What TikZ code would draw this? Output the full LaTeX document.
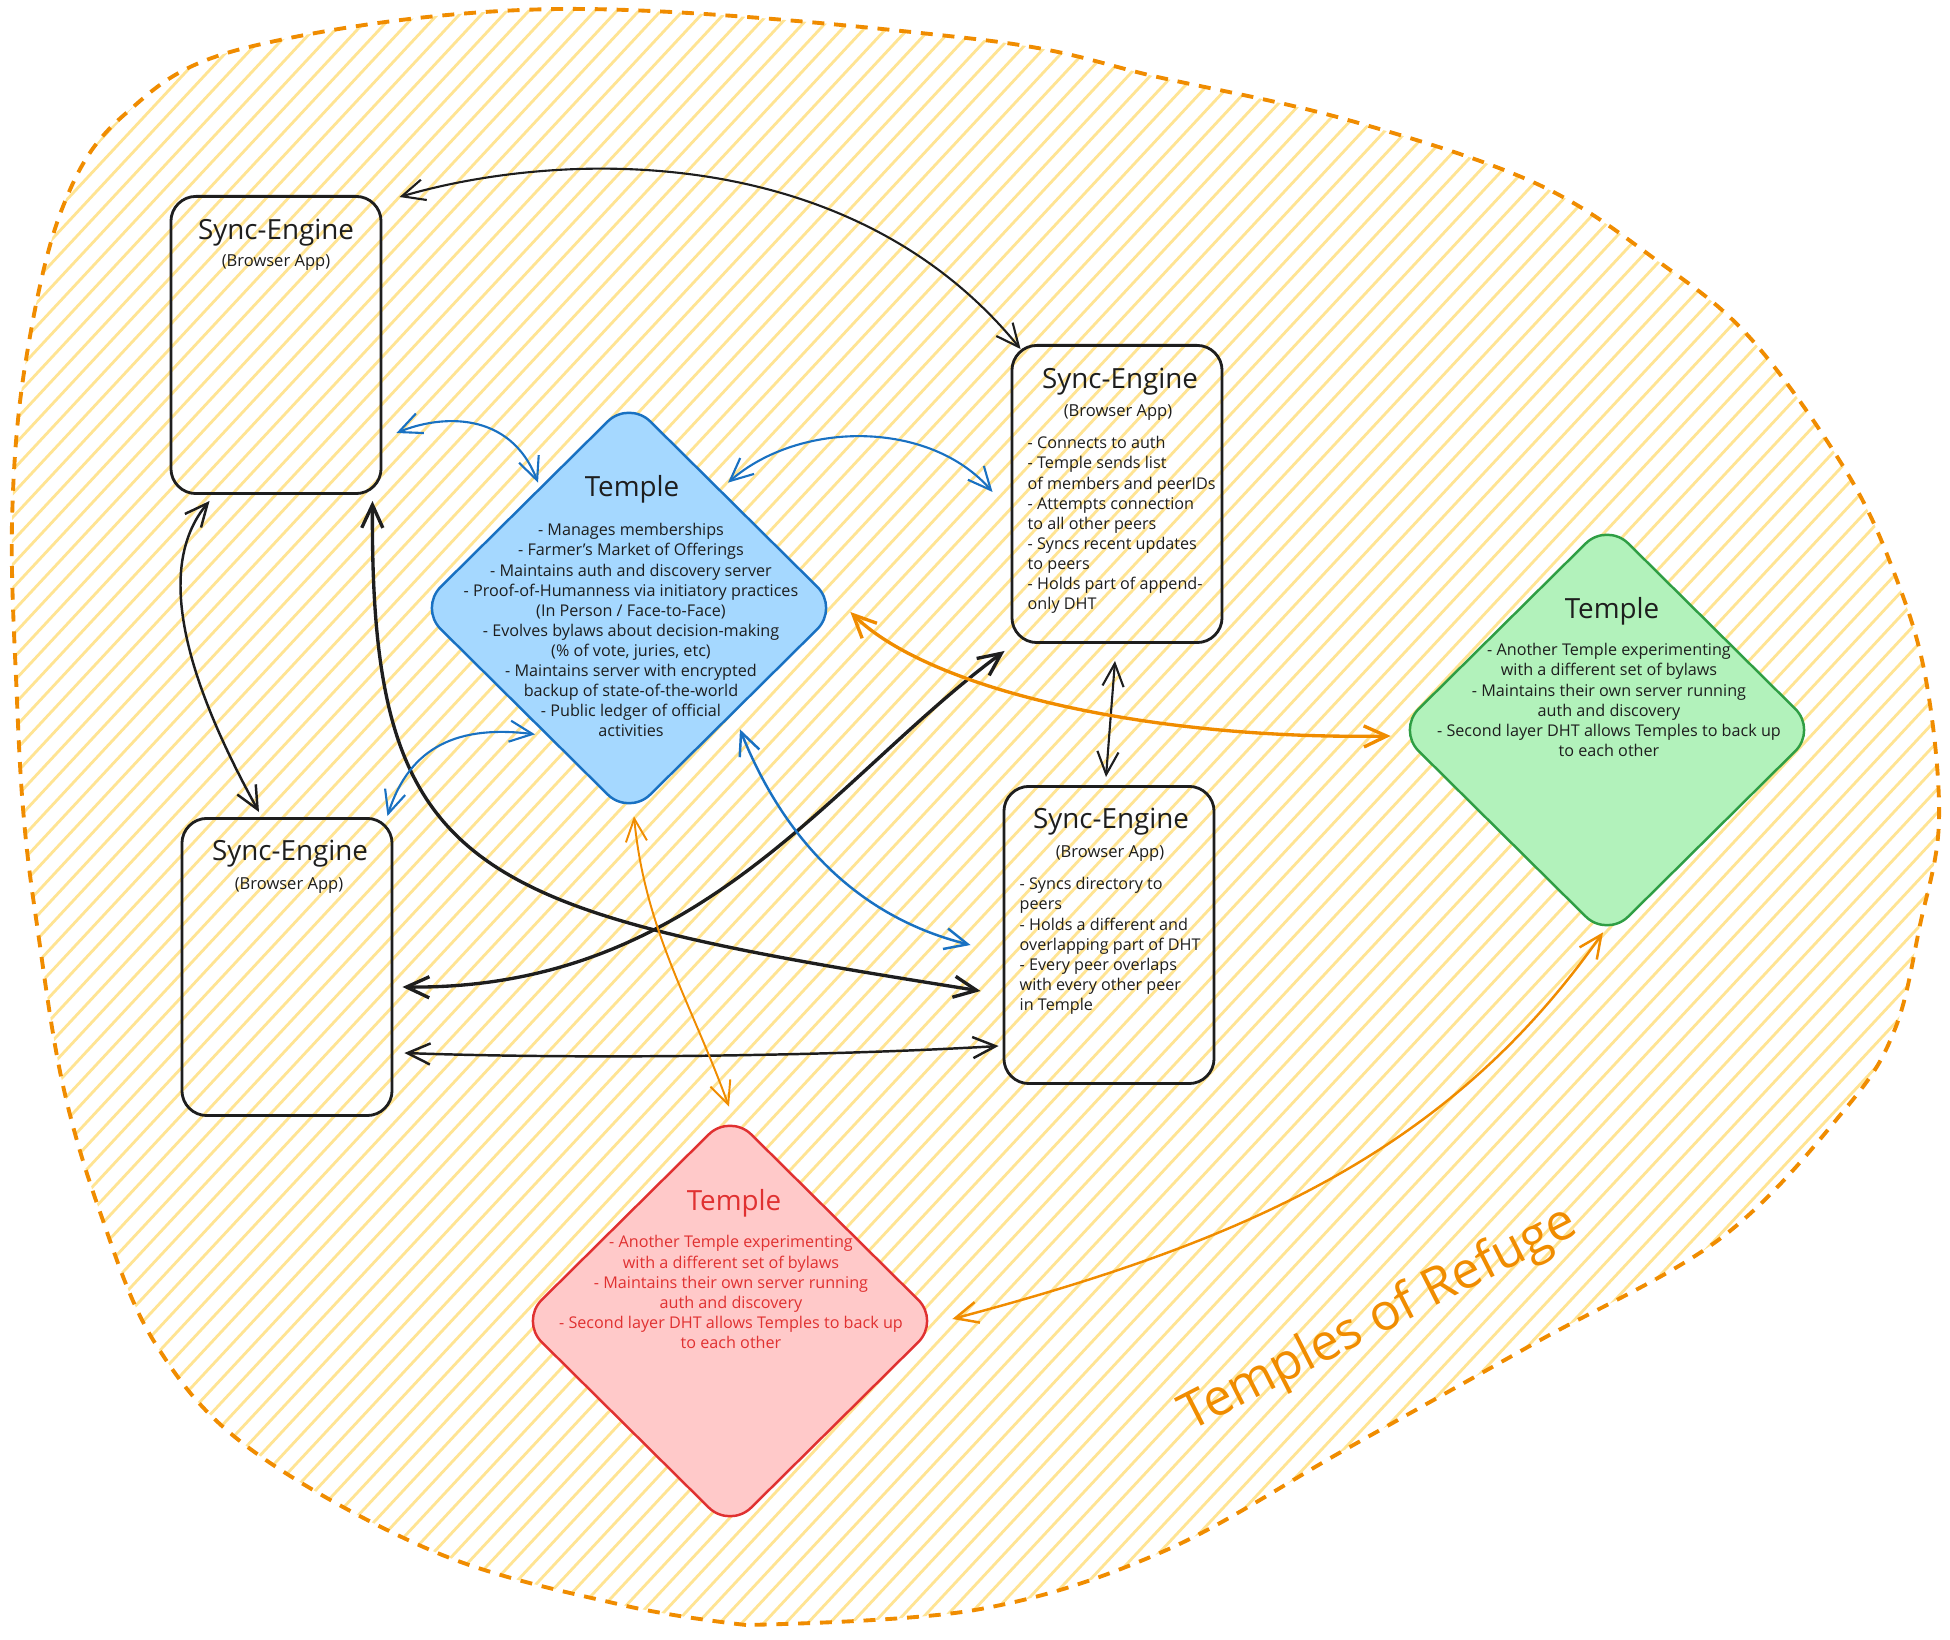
\documentclass[tikz,border=0pt]{standalone}
\usepackage{fontspec}
\setmainfont{Open Sans}
\usetikzlibrary{arrows.meta,shapes.geometric}
\definecolor{ink}{HTML}{1E1E1E}
\definecolor{blu}{HTML}{1971C2}
\definecolor{blufill}{HTML}{A5D8FF}
\definecolor{grn}{HTML}{2F9E44}
\definecolor{grnfill}{HTML}{B2F2BB}
\definecolor{rd}{HTML}{E03131}
\definecolor{rdfill}{HTML}{FFC9C9}
\definecolor{orng}{HTML}{F08C00}
\definecolor{hatchy}{HTML}{FFE493}
\tikzset{
  engine/.style={draw=ink, line width=0.8pt, rounded corners=0.25cm, minimum width=2.1cm, minimum height=2.97cm, inner sep=0pt},
  temple/.style={shape=diamond, line width=0.7pt, rounded corners=0.3cm, minimum width=4.2cm, minimum height=4.16cm, inner sep=0pt},
  ttl/.style={font=\fontsize{7.9}{9}\selectfont, text=ink},
  sub/.style={font=\fontsize{4.7}{5.69}\selectfont, text=ink},
  list/.style={font=\fontsize{4.6}{5.69}\selectfont, text=ink, align=left, anchor=north west, inner sep=0pt},
  clist/.style={font=\fontsize{4.6}{5.69}\selectfont, text=ink, align=center, anchor=north, inner sep=0pt},
  link/.style={<->, draw=ink, line width=0.6pt},
  >={Straight Barb[length=6.5pt,width=6pt]},
}
\begin{document}
\begin{tikzpicture}[x=0.01cm,y=-0.01cm]
\useasboundingbox (0,0) rectangle (1950,1640);
\fill[white] (0,0) rectangle (1950,1640);
%
\begin{scope}
\clip plot[smooth,tension=0.6] coordinates {(746,1625) (622,1605) (435,1552) (249,1448) (155,1343) (100,1212) (62,1081) (37,925) (24,820) (17,700) (12,523) (25,366) (62,209) (124,115) (249,47) (560,9) (975,39) (1162,78) (1348,120) (1535,183) (1659,262) (1752,340) (1846,471) (1895,575) (1926,680) (1939,820) (1920,925) (1895,1029) (1846,1108) (1721,1238) (1535,1343) (1348,1448) (1162,1552) (975,1610) (746,1625)};
\foreach \k in {-72,...,90}
  \draw[hatchy, line width=0.8pt] (\k*22,1640) -- ++(1529,-1640);
\end{scope}
\draw[orng, line width=1.1pt, dash pattern=on 3.4pt off 2.8pt] plot[smooth,tension=0.6] coordinates {(746,1625) (622,1605) (435,1552) (249,1448) (155,1343) (100,1212) (62,1081) (37,925) (24,820) (17,700) (12,523) (25,366) (62,209) (124,115) (249,47) (560,9) (975,39) (1162,78) (1348,120) (1535,183) (1659,262) (1752,340) (1846,471) (1895,575) (1926,680) (1939,820) (1920,925) (1895,1029) (1846,1108) (1721,1238) (1535,1343) (1348,1448) (1162,1552) (975,1610) (746,1625)};
%
\node(se1)[engine] at (276,345) {};
\node(se1t)[ttl] at (276,233) {Sync-Engine};
\node(se1s)[sub] at (276,263) {(Browser App)};
%
\node(se2)[engine] at (1117,494) {};
\node(se2t)[ttl] at (1120,382) {Sync-Engine};
\node(se2s)[sub] at (1118,413) {(Browser App)};
\node(se2l)[list] at (1027,436) {- Connects to auth\\- Temple sends list\\of members and peerIDs\\- Attempts connection\\to all other peers\\- Syncs recent updates\\to peers\\- Holds part of append-\\only DHT};
%
\node(se3)[engine] at (287,967) {};
\node(se3t)[ttl] at (290,854) {Sync-Engine};
\node(se3s)[sub] at (289,886) {(Browser App)};
%
\node(se4)[engine] at (1109,935) {};
\node(se4t)[ttl] at (1111,822) {Sync-Engine};
\node(se4s)[sub] at (1110,854) {(Browser App)};
\node(se4l)[list] at (1019,877) {- Syncs directory to\\peers\\- Holds a different and\\overlapping part of DHT\\- Every peer overlaps\\with every other peer\\in Temple};
%
\node(tb)[temple, draw=blu, fill=blufill] at (629,608) {};
\node(tbt)[ttl] at (632,489) {Temple};
\node(tbl)[clist] at (631,523) {- Manages memberships\\- Farmer's Market of Offerings\\- Maintains auth and discovery server\\- Proof-of-Humanness via initiatory practices\\(In Person / Face-to-Face)\\- Evolves bylaws about decision-making\\(\% of vote, juries, etc)\\- Maintains server with encrypted\\backup of state-of-the-world\\- Public ledger of official\\activities};
%
\node(tg)[temple, draw=grn, fill=grnfill] at (1607,730) {};
\node(tgt)[ttl] at (1612,611) {Temple};
\node(tgl)[clist] at (1609,643) {- Another Temple experimenting\\with a different set of bylaws\\- Maintains their own server running\\auth and discovery\\- Second layer DHT allows Temples to back up\\to each other};
%
\node(tr)[temple, draw=rd, fill=rdfill] at (730,1321) {};
\node(trt)[ttl, text=rd] at (734,1203) {Temple};
\node(trl)[clist, text=rd] at (731,1235) {- Another Temple experimenting\\with a different set of bylaws\\- Maintains their own server running\\auth and discovery\\- Second layer DHT allows Temples to back up\\to each other};
%
\node(refuge)[rotate=27, text=orng, font=\fontsize{14.5}{16}\selectfont] at (1379,1320) {Temples of Refuge};
%
\draw[link] ([shift={(17,2)}]se1.north east) .. controls (560,150) and (850,140) .. ([shift={(10,5)}]se2.north west);
\draw[link, line width=0.7pt] ([shift={(40,6)}]se1.south west) .. controls (160,560) and (175,660) .. ([shift={(-28,-5)}]se3.north);
\draw[link, line width=0.95pt] ([shift={(-10,6)}]se1.south east) .. controls (370,880) and (470,910) .. ([shift={(-22,56)}]se4.west);
\draw[link, line width=0.95pt] ([shift={(9,20)}]se3.east) .. controls (700,990) and (830,780) .. ([shift={(-6,7)}]se2.south west);
\draw[link, line width=0.7pt] ([shift={(11,86)}]se3.east) .. controls (600,1060) and (850,1055) .. ([shift={(-4,111)}]se4.west);
\draw[link] ([shift={(-2,17)}]se2.south) -- ([shift={(-3,-8)}]se4.north);
%
\draw[link, draw=blu] ([shift={(14,88)}]se1.east) .. controls (440,415) and (510,410) .. ([shift={(-91,84)}]tb.north);
\draw[link, draw=blu] ([shift={(99,84)}]tb.north) .. controls (800,420) and (930,420) .. ([shift={(-18,-2)}]se2.west);
\draw[link, draw=blu] ([shift={(-94,-83)}]tb.south) .. controls (460,725) and (410,745) .. ([shift={(-6,-1)}]se3.north east);
\draw[link, draw=blu, line width=0.7pt] ([shift={(111,-88)}]tb.south) .. controls (780,830) and (850,915) .. ([shift={(-32,10)}]se4.west);
%
\draw[link, draw=orng, line width=0.95pt] ([shift={(10,4)}]tb.east) .. controls (930,690) and (1150,740) .. ([shift={(-5,6)}]tg.west);
\draw[link, draw=orng, line width=0.55pt] ([shift={(5,-1)}]tb.south) .. controls (645,930) and (690,1000) .. ([shift={(-1,-5)}]tr.north);
\draw[link, draw=orng, line width=0.7pt] ([shift={(11,-2)}]tr.east) .. controls (1250,1240) and (1450,1150) .. ([shift={(-4,-7)}]tg.south);
\end{tikzpicture}
\end{document}
